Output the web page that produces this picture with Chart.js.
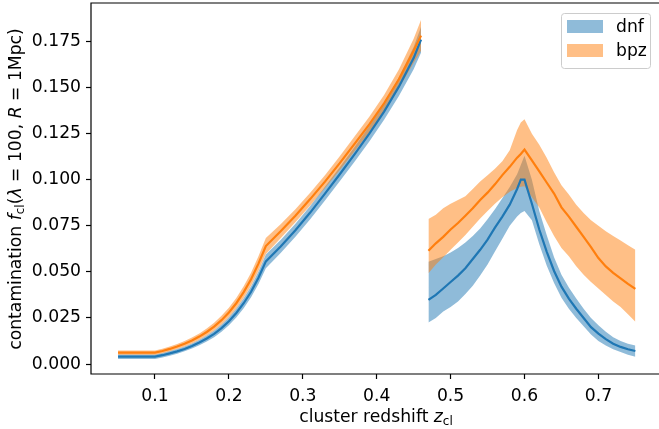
<!DOCTYPE html>
<html>
<head>
<meta charset="utf-8">
<script src="https://cdn.jsdelivr.net/npm/chart.js@4"></script>
<style>
  html, body { margin: 0; padding: 0; background: #fff; overflow: hidden; }
  #wrap { width: 670px; height: 429px; }
</style>
</head>
<body>
<div id="wrap"><canvas id="chart" width="670" height="429"></canvas></div>
<script>
// --- DATA ---
const xTicks = [0.1, 0.2, 0.3, 0.4, 0.5, 0.6, 0.7];
const yTicks = [0, 0.025, 0.05, 0.075, 0.1, 0.125, 0.15, 0.175];

// low redshift segment
const zLow      = [0.05, 0.10, 0.11, 0.12, 0.13, 0.14, 0.15, 0.16, 0.17, 0.18, 0.19, 0.20, 0.21, 0.22, 0.23, 0.24, 0.25, 0.27, 0.29, 0.31, 0.33, 0.35, 0.37, 0.39, 0.41, 0.43, 0.45, 0.46];
const dnfLow    = [0.0040, 0.0040, 0.0048, 0.0058, 0.0069, 0.0082, 0.0098, 0.0117, 0.0139, 0.0164, 0.0195, 0.0232, 0.0277, 0.0330, 0.0392, 0.0468, 0.0557, 0.0638, 0.0726, 0.0822, 0.0925, 0.1030, 0.1138, 0.1250, 0.1370, 0.1505, 0.1660, 0.1760];
const dnfLowLo  = [0.0028, 0.0028, 0.0036, 0.0045, 0.0056, 0.0069, 0.0084, 0.0102, 0.0123, 0.0146, 0.0175, 0.0210, 0.0252, 0.0303, 0.0362, 0.0434, 0.0520, 0.0603, 0.0691, 0.0786, 0.0888, 0.0992, 0.1098, 0.1208, 0.1325, 0.1455, 0.1600, 0.1690];
const dnfLowHi  = [0.0052, 0.0052, 0.0060, 0.0071, 0.0082, 0.0095, 0.0112, 0.0132, 0.0155, 0.0182, 0.0215, 0.0254, 0.0302, 0.0357, 0.0422, 0.0502, 0.0595, 0.0673, 0.0761, 0.0858, 0.0962, 0.1068, 0.1178, 0.1292, 0.1415, 0.1555, 0.1720, 0.1830];
const bpzLow    = [0.0062, 0.0062, 0.0071, 0.0082, 0.0095, 0.0110, 0.0128, 0.0149, 0.0174, 0.0203, 0.0238, 0.0280, 0.0330, 0.0390, 0.0460, 0.0545, 0.0640, 0.0720, 0.0805, 0.0895, 0.0990, 0.1090, 0.1195, 0.1300, 0.1415, 0.1545, 0.1700, 0.1782];
const bpzLowLo  = [0.0050, 0.0050, 0.0059, 0.0069, 0.0081, 0.0095, 0.0112, 0.0132, 0.0155, 0.0182, 0.0214, 0.0254, 0.0301, 0.0358, 0.0425, 0.0505, 0.0597, 0.0683, 0.0770, 0.0860, 0.0955, 0.1053, 0.1155, 0.1258, 0.1370, 0.1495, 0.1635, 0.1700];
const bpzLowHi  = [0.0074, 0.0074, 0.0083, 0.0095, 0.0109, 0.0125, 0.0144, 0.0166, 0.0193, 0.0224, 0.0262, 0.0306, 0.0359, 0.0422, 0.0495, 0.0585, 0.0684, 0.0758, 0.0840, 0.0930, 0.1025, 0.1127, 0.1235, 0.1342, 0.1460, 0.1598, 0.1765, 0.1868];

// high redshift segment
const zHigh     = [0.47, 0.48, 0.49, 0.50, 0.51, 0.52, 0.53, 0.54, 0.55, 0.56, 0.57, 0.58, 0.59, 0.595, 0.60, 0.61, 0.62, 0.63, 0.64, 0.65, 0.66, 0.67, 0.68, 0.69, 0.70, 0.71, 0.72, 0.73, 0.74, 0.75];
const dnfHigh   = [0.0348, 0.0375, 0.0410, 0.0445, 0.0480, 0.0520, 0.0570, 0.0620, 0.0675, 0.0740, 0.0800, 0.0865, 0.0950, 0.1001, 0.1001, 0.0870, 0.0730, 0.0610, 0.0505, 0.0420, 0.0355, 0.0300, 0.0250, 0.0200, 0.0165, 0.0135, 0.0110, 0.0093, 0.0080, 0.0071];
const dnfHighLo = [0.0225, 0.0250, 0.0285, 0.0310, 0.0340, 0.0380, 0.0425, 0.0480, 0.0540, 0.0610, 0.0680, 0.0750, 0.0800, 0.0820, 0.0830, 0.0780, 0.0650, 0.0535, 0.0440, 0.0360, 0.0300, 0.0250, 0.0205, 0.0160, 0.0125, 0.0100, 0.0080, 0.0065, 0.0050, 0.0040];
const dnfHighHi = [0.0555, 0.0570, 0.0585, 0.0605, 0.0630, 0.0660, 0.0695, 0.0735, 0.0785, 0.0840, 0.0900, 0.0960, 0.1030, 0.1080, 0.1130, 0.1000, 0.0830, 0.0700, 0.0580, 0.0485, 0.0415, 0.0355, 0.0300, 0.0250, 0.0210, 0.0175, 0.0145, 0.0125, 0.0110, 0.0100];
const bpzHigh   = [0.0615, 0.0655, 0.0690, 0.0730, 0.0765, 0.0805, 0.0845, 0.0890, 0.0930, 0.0975, 0.1025, 0.1070, 0.1120, 0.1140, 0.1164, 0.1105, 0.1045, 0.0985, 0.0925, 0.0850, 0.0800, 0.0745, 0.0690, 0.0635, 0.0575, 0.0530, 0.0495, 0.0465, 0.0435, 0.0408];
const bpzHighLo = [0.0493, 0.0540, 0.0580, 0.0620, 0.0660, 0.0700, 0.0745, 0.0790, 0.0830, 0.0870, 0.0905, 0.0935, 0.0955, 0.0962, 0.0965, 0.0905, 0.0850, 0.0770, 0.0695, 0.0630, 0.0585, 0.0530, 0.0485, 0.0445, 0.0410, 0.0375, 0.0340, 0.0310, 0.0270, 0.0230];
const bpzHighHi = [0.0787, 0.0810, 0.0845, 0.0870, 0.0890, 0.0910, 0.0950, 0.0990, 0.1025, 0.1060, 0.1100, 0.1160, 0.1270, 0.1310, 0.1328, 0.1250, 0.1190, 0.1120, 0.1040, 0.0970, 0.0920, 0.0865, 0.0820, 0.0780, 0.0750, 0.0720, 0.0695, 0.0670, 0.0645, 0.0620];

// --- STYLE ---
const BLUE = '#1f77b4', ORANGE = '#ff7f0e';
const BLUE_FILL = 'rgba(31,119,180,0.5)', ORANGE_FILL = 'rgba(255,127,14,0.5)';
const FONT = '"DejaVu Sans", sans-serif';
const FS = 17.2;

const pts = (xs, ys) => xs.map((x, i) => ({ x: x, y: ys[i] }));

function band(xs, hi, lo, color, order) {
    return [
        { data: pts(xs, hi), fill: '+1', backgroundColor: color, borderColor: 'transparent', borderWidth: 0, pointRadius: 0, order: order },
        { data: pts(xs, lo), fill: false, borderColor: 'transparent', borderWidth: 0, pointRadius: 0, order: order }
    ];
}
function line(xs, ys, color, order) {
    return { data: pts(xs, ys), borderColor: color, borderWidth: 2.2, pointRadius: 0, fill: false, order: order };
}

// text with italic / subscript parts
function richText(ctx, parts, x, y, angle) {
    const fontFor = p => `${p.it ? 'italic ' : ''}${p.sub ? FS * 0.7 : FS}px ${FONT}`;
    let w = 0;
    parts.forEach(p => { ctx.font = fontFor(p); w += ctx.measureText(p.t).width; });
    ctx.save();
    ctx.translate(x, y);
    ctx.rotate(angle);
    ctx.fillStyle = '#000';
    ctx.textBaseline = 'alphabetic';
    let cx = -w / 2;
    parts.forEach(p => {
        ctx.font = fontFor(p);
        ctx.fillText(p.t, cx, p.sub ? FS * 0.2 : 0);
        cx += ctx.measureText(p.t).width;
    });
    ctx.restore();
}

const decor = {
    id: 'decor',
    afterDraw(chart) {
        const { ctx, chartArea: a } = chart;
        ctx.save();
        // spines (right one falls outside the window)
        ctx.strokeStyle = '#000';
        ctx.lineWidth = 1.2;
        ctx.beginPath();
        ctx.moveTo(a.right, a.top);
        ctx.lineTo(a.left, a.top);
        ctx.lineTo(a.left, a.bottom);
        ctx.lineTo(a.right, a.bottom);
        ctx.stroke();

        // legend
        const lx = 561, ly = 13, lw = 89, lh = 55;
        ctx.beginPath();
        ctx.roundRect(lx + 0.5, ly + 0.5, lw, lh, 3);
        ctx.fillStyle = 'rgba(255,255,255,0.8)';
        ctx.fill();
        ctx.strokeStyle = '#cccccc';
        ctx.lineWidth = 1;
        ctx.stroke();
        ctx.fillStyle = BLUE_FILL;
        ctx.fillRect(567, 20, 36, 13);
        ctx.fillStyle = ORANGE_FILL;
        ctx.fillRect(567, 44, 36, 13);
        ctx.fillStyle = '#000';
        ctx.font = `${FS}px ${FONT}`;
        ctx.textBaseline = 'alphabetic';
        ctx.fillText('dnf', 616, 32);
        ctx.fillText('bpz', 616, 56);
        ctx.restore();

        // axis titles
        richText(ctx, [
            { t: 'cluster redshift ' }, { t: 'z', it: true }, { t: 'cl', sub: true }
        ], 376, 422, 0);
        richText(ctx, [
            { t: 'contamination ' }, { t: 'f', it: true }, { t: 'cl', sub: true },
            { t: '(' }, { t: 'λ', it: true }, { t: ' = 100, ' }, { t: 'R', it: true },
            { t: ' = 1Mpc)' }
        ], 21, 189, -Math.PI / 2);
    }
};

const axisCommon = {
    grid: { display: true, drawOnChartArea: false, drawTicks: true, tickLength: 5, tickWidth: 1.2, tickColor: '#000' },
    border: { display: false },
    ticks: { color: '#000', font: { family: FONT, size: FS }, padding: 5, autoSkip: false, maxRotation: 0 }
};

new Chart(document.getElementById('chart'), {
    type: 'line',
    data: {
        datasets: [
            line(zLow, bpzLow, ORANGE, 0),
            line(zHigh, bpzHigh, ORANGE, 0),
            line(zLow, dnfLow, BLUE, 1),
            line(zHigh, dnfHigh, BLUE, 1),
            ...band(zLow, bpzLowHi, bpzLowLo, ORANGE_FILL, 2),
            ...band(zHigh, bpzHighHi, bpzHighLo, ORANGE_FILL, 2),
            ...band(zLow, dnfLowHi, dnfLowLo, BLUE_FILL, 3),
            ...band(zHigh, dnfHighHi, dnfHighLo, BLUE_FILL, 3)
        ]
    },
    options: {
        responsive: false,
        animation: false,
        devicePixelRatio: 1,
        layout: { padding: { left: 0, top: 3, right: 9, bottom: 0 } },
        plugins: { legend: { display: false }, tooltip: { enabled: false } },
        elements: { line: { tension: 0 } },
        scales: {
            x: {
                type: 'linear', min: 0.0134, max: 0.7847,
                ...axisCommon,
                ticks: { ...axisCommon.ticks, padding: 7, callback: v => v.toFixed(1) },
                afterBuildTicks: s => { s.ticks = xTicks.map(v => ({ value: v })); },
                afterFit: s => { s.height = 55; s.paddingLeft = 0; s.paddingRight = 0; }
            },
            y: {
                type: 'linear', min: -0.0054, max: 0.1959,
                ...axisCommon,
                ticks: { ...axisCommon.ticks, callback: v => v.toFixed(3) },
                afterBuildTicks: s => { s.ticks = yTicks.map(v => ({ value: v })); },
                afterFit: s => { s.width = 91; s.paddingTop = 0; s.paddingBottom = 0; }
            }
        }
    },
    plugins: [decor]
});
</script>
</body>
</html>
